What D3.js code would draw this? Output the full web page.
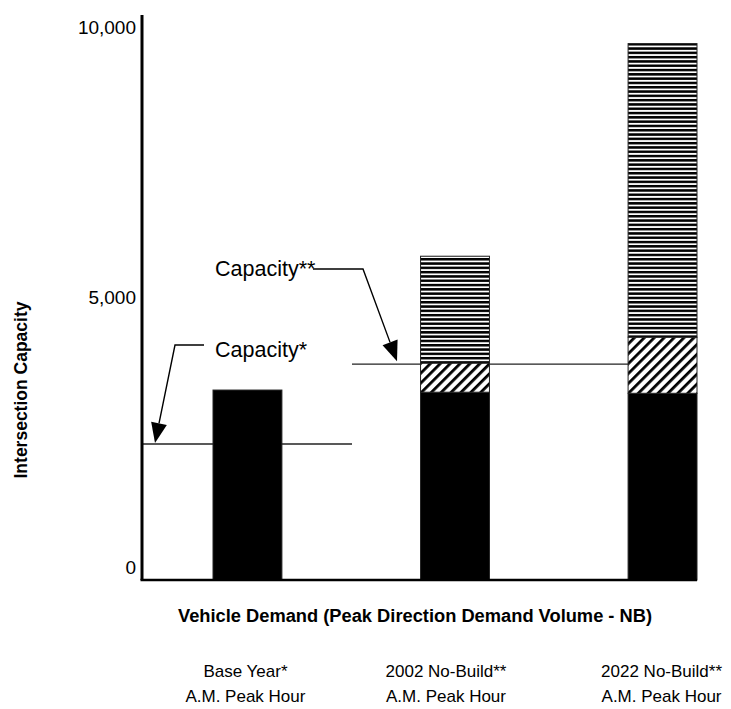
<!DOCTYPE html>
<html><head><meta charset="utf-8">
<script src="https://cdn.jsdelivr.net/npm/d3@7"></script>
<style>
html,body{margin:0;padding:0;background:#fff;}
svg{display:block;font-family:"Liberation Sans",Arial,sans-serif;}
</style></head>
<body><svg id="chart" width="731" height="709"></svg>
<script>
// ---- data ----
const categories = ["Base Year*", "2002 No-Build**", "2022 No-Build**"];
const subLabels = ["A.M. Peak Hour", "A.M. Peak Hour", "A.M. Peak Hour"];
const baseDemand = [3280, 3240, 3220];      // solid black
const midDemand = [0, 540, 1040];           // diagonal hatch
const topDemand = [0, 1980, 5440];          // horizontal stripes
const capacityValues = [2280, 3760];
const capacityLabels = ["Capacity*", "Capacity**"];
const yTicks = [0, 5000, 10000];
const yTickLabels = ["0", "5,000", "10,000"];
const yDomain = [-240, 10230];

const svg = d3.select("#chart");
const defs = svg.append("defs");

const hp = defs.append("pattern").attr("id","hstripe").attr("patternUnits","userSpaceOnUse")
  .attr("width",8).attr("height",4.3);
hp.append("rect").attr("width",8).attr("height",4.3).attr("fill","#fff");
hp.append("rect").attr("y",0).attr("width",8).attr("height",2.5).attr("fill","#000");

const dp = defs.append("pattern").attr("id","diag").attr("patternUnits","userSpaceOnUse")
  .attr("width",7).attr("height",7).attr("patternTransform","rotate(45)");
dp.append("rect").attr("width",7).attr("height",7).attr("fill","#fff");
dp.append("rect").attr("x",0).attr("width",2.8).attr("height",7).attr("fill","#000");

const axisX = 142, plotRight = 697;
const y = d3.scaleLinear().domain(yDomain).range([580, 15]);
const x = d3.scaleBand().domain(categories).range([213, plotRight]).paddingInner(0.668).paddingOuter(0);

// capacity lines (behind bars)
const capSpans = [[axisX, 352], [352, x(categories[2])]];
capacityValues.forEach((v,i)=>{
  svg.append("line").attr("x1",capSpans[i][0]).attr("x2",capSpans[i][1])
    .attr("y1",y(v)).attr("y2",y(v)).attr("stroke","#222").attr("stroke-width",1.3);
});

// bars
const segs = [];
categories.forEach((c,i)=>{
  const b0 = yDomain[0];
  const b1 = baseDemand[i];
  const b2 = b1 + midDemand[i];
  const b3 = b2 + topDemand[i];
  segs.push({c, lo:b0, hi:b1, fill:"#000"});
  if (midDemand[i] > 0) segs.push({c, lo:b1, hi:b2, fill:"url(#diag)"});
  if (topDemand[i] > 0) segs.push({c, lo:b2, hi:b3, fill:"url(#hstripe)"});
});
svg.append("g").selectAll("rect").data(segs).join("rect")
  .attr("x", d=>x(d.c)).attr("width", x.bandwidth())
  .attr("y", d=>y(d.hi)).attr("height", d=>y(d.lo)-y(d.hi))
  .attr("fill", d=>d.fill).attr("stroke","#222").attr("stroke-width",1);

// axes
svg.append("line").attr("x1",axisX).attr("x2",axisX).attr("y1",y.range()[1]).attr("y2",580)
  .attr("stroke","#000").attr("stroke-width",3);
svg.append("line").attr("x1",axisX-1.5).attr("x2",plotRight).attr("y1",580).attr("y2",580)
  .attr("stroke","#000").attr("stroke-width",2.5);

const yAxis = d3.axisLeft(y).tickValues(yTicks).tickSize(0).tickPadding(5)
  .tickFormat((d,i)=>yTickLabels[i]);
const ga = svg.append("g").attr("transform",`translate(${axisX-1},0)`).call(yAxis);
ga.select(".domain").remove();
ga.selectAll("text").attr("font-size",19).attr("fill","#000")
  .attr("font-family","'Liberation Sans',Arial,sans-serif");

// axis titles
svg.append("text").attr("transform","translate(27,390) rotate(-90)")
  .attr("text-anchor","middle").attr("font-size",17.5).attr("font-weight","bold")
  .text("Intersection Capacity");
svg.append("text").attr("x",415).attr("y",622).attr("text-anchor","middle")
  .attr("font-size",18.3).attr("font-weight","bold")
  .text("Vehicle Demand (Peak Direction Demand Volume - NB)");

// category labels
categories.forEach((c,i)=>{
  const cx = x(c) + x.bandwidth()/2 - [2, 9, 1][i];
  svg.append("text").attr("x",cx).attr("y",677).attr("text-anchor","middle")
    .attr("font-size",17).text(c);
  svg.append("text").attr("x",cx).attr("y",702).attr("text-anchor","middle")
    .attr("font-size",17).text(subLabels[i]);
});

// annotations
function arrow(pts, tip){
  const line = d3.line();
  const last = pts[pts.length-1];
  const ang = Math.atan2(tip[1]-last[1], tip[0]-last[0]);
  const L = 20, W = 8;
  const bx = tip[0]-L*Math.cos(ang), by = tip[1]-L*Math.sin(ang);
  svg.append("path").attr("d", line(pts.concat([[bx,by]]))).attr("fill","none")
    .attr("stroke","#000").attr("stroke-width",1.4);
  const p1 = [bx - W*Math.sin(ang), by + W*Math.cos(ang)];
  const p2 = [bx + W*Math.sin(ang), by - W*Math.cos(ang)];
  svg.append("path").attr("d", line([tip,p1,p2])+"Z").attr("fill","#000");
}
const c1y = y(capacityValues[0]), c2y = y(capacityValues[1]);
svg.append("text").attr("x",215).attr("y",357).attr("font-size",21.5).text(capacityLabels[0]);
arrow([[204,345],[175,345]], [155, c1y-1]);
svg.append("text").attr("x",215).attr("y",276).attr("font-size",21.5).text(capacityLabels[1]);
arrow([[313,269],[363,269]], [397, c2y-3]);
</script></body></html>
